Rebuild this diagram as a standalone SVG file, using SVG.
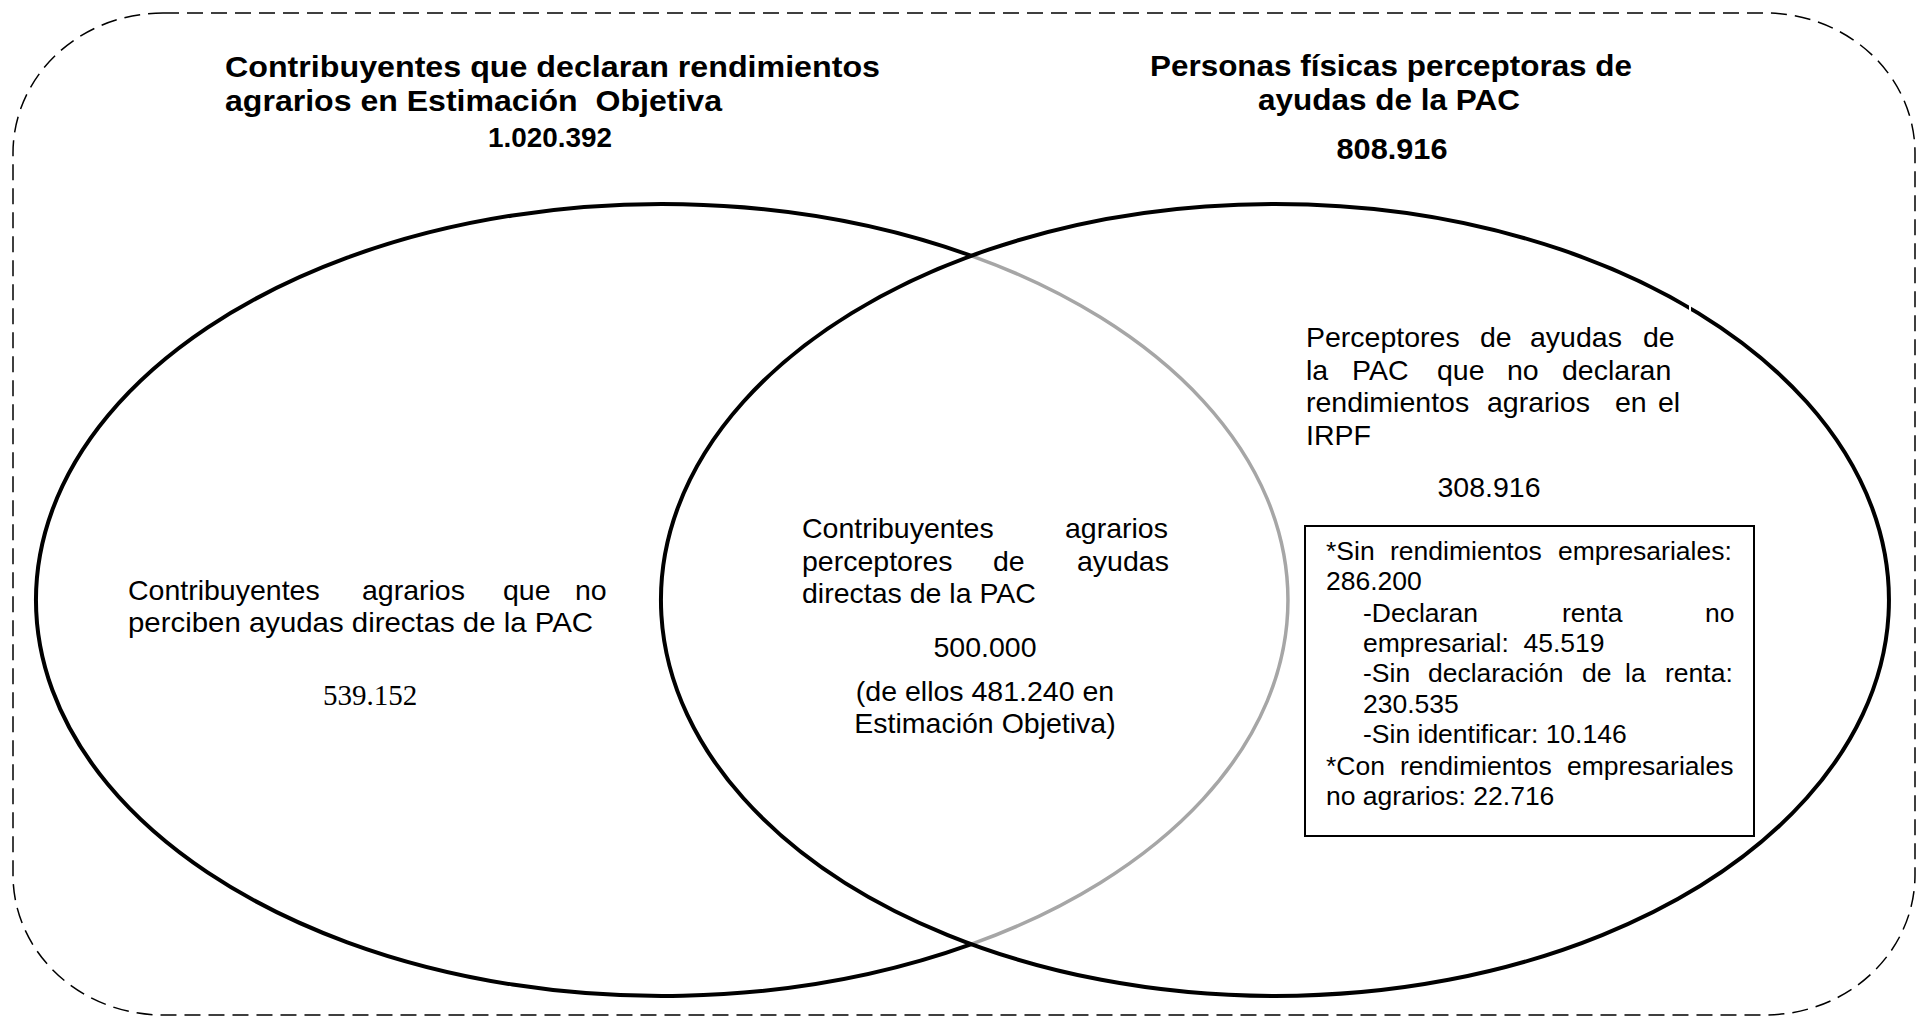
<svg xmlns="http://www.w3.org/2000/svg" width="1917" height="1017" viewBox="0 0 1917 1017">
<style>
.t{font-family:'Liberation Sans',Arial,sans-serif;fill:#000}
.title{font-size:29.5px;font-weight:bold}
.body{font-size:28.5px}
.box{font-size:26.5px}
.serif{font-family:'Liberation Serif','Times New Roman',serif;font-size:29px;fill:#000}
.mid{text-anchor:middle}
.ell{fill:none;stroke:#000;stroke-width:4}
</style>
<rect width="1917" height="1017" fill="#fff"/>
<g id="frame">
<rect x="13" y="13" width="1902" height="1002" rx="150" ry="140" fill="none" stroke="#000" stroke-width="1.5" stroke-dasharray="16 8"/>
</g>
<g id="connectors"/>
<g id="set-left">
<path class="ell" d="M971.5 255.8 A626 396 0 1 0 971.5 944.2"/>
<path d="M971.5 255.8 A626 396 0 0 1 971.5 944.2" fill="none" stroke="#a6a6a6" stroke-width="3.5"/>
<text class="t title" x="225" y="77" textLength="655" lengthAdjust="spacingAndGlyphs">Contribuyentes que declaran rendimientos</text>
<text class="t title" x="225" y="111" textLength="497" lengthAdjust="spacingAndGlyphs" xml:space="preserve">agrarios en Estimación  Objetiva</text>
<text class="t title mid" x="550" y="147" style="font-size:27px" textLength="124" lengthAdjust="spacingAndGlyphs">1.020.392</text>
<text class="t body" y="600"><tspan x="128">Contribuyentes</tspan><tspan x="362">agrarios</tspan><tspan x="503">que</tspan><tspan x="575">no</tspan></text>
<text class="t body" x="128" y="632" textLength="465" lengthAdjust="spacingAndGlyphs">perciben ayudas directas de la PAC</text>
<text class="serif mid" x="370" y="705">539.152</text>
</g>
<g id="set-right">
<path class="ell" d="M1275 204 A614 396 0 1 1 1274.9 204 Z"/>
<line x1="1690" y1="300" x2="1690" y2="318" stroke="#fff" stroke-width="2"/>
<text class="t title mid" x="1391" y="76" textLength="482" lengthAdjust="spacingAndGlyphs">Personas físicas perceptoras de</text>
<text class="t title mid" x="1389" y="110" textLength="262" lengthAdjust="spacingAndGlyphs">ayudas de la PAC</text>
<text class="t title mid" x="1392" y="159" textLength="111" lengthAdjust="spacingAndGlyphs">808.916</text>
<text class="t body" y="347"><tspan x="1306">Perceptores</tspan><tspan x="1480">de</tspan><tspan x="1530">ayudas</tspan><tspan x="1643">de</tspan></text>
<text class="t body" y="380"><tspan x="1306">la</tspan><tspan x="1352">PAC</tspan><tspan x="1437">que</tspan><tspan x="1507">no</tspan><tspan x="1562">declaran</tspan></text>
<text class="t body" y="412"><tspan x="1306">rendimientos</tspan><tspan x="1487">agrarios</tspan><tspan x="1615">en</tspan><tspan x="1658">el</tspan></text>
<text class="t body" x="1306" y="445">IRPF</text>
<text class="t body mid" x="1489" y="497">308.916</text>
</g>
<g id="intersection">
<text class="t body" y="538"><tspan x="802">Contribuyentes</tspan><tspan x="1065">agrarios</tspan></text>
<text class="t body" y="571"><tspan x="802">perceptores</tspan><tspan x="993">de</tspan><tspan x="1077">ayudas</tspan></text>
<text class="t body" x="802" y="603">directas de la PAC</text>
<text class="t body mid" x="985" y="657">500.000</text>
<text class="t body mid" x="985" y="701">(de ellos 481.240 en</text>
<text class="t body mid" x="985" y="733">Estimación Objetiva)</text>
</g>
<g id="detail-box">
<rect x="1305" y="526" width="449" height="310" fill="#fff" stroke="#000" stroke-width="2"/>
<text class="t box" y="560"><tspan x="1326">*Sin</tspan><tspan x="1390">rendimientos</tspan><tspan x="1558">empresariales:</tspan></text>
<text class="t box" x="1326" y="590">286.200</text>
<text class="t box" y="622"><tspan x="1363">-Declaran</tspan><tspan x="1562">renta</tspan><tspan x="1705">no</tspan></text>
<text class="t box" x="1363" y="652" xml:space="preserve">empresarial:  45.519</text>
<text class="t box" y="682"><tspan x="1363">-Sin</tspan><tspan x="1428">declaración</tspan><tspan x="1582">de</tspan><tspan x="1625">la</tspan><tspan x="1665">renta:</tspan></text>
<text class="t box" x="1363" y="713">230.535</text>
<text class="t box" x="1363" y="743">-Sin identificar: 10.146</text>
<text class="t box" y="775"><tspan x="1326">*Con</tspan><tspan x="1400">rendimientos</tspan><tspan x="1567">empresariales</tspan></text>
<text class="t box" x="1326" y="805">no agrarios: 22.716</text>
</g>
</svg>
